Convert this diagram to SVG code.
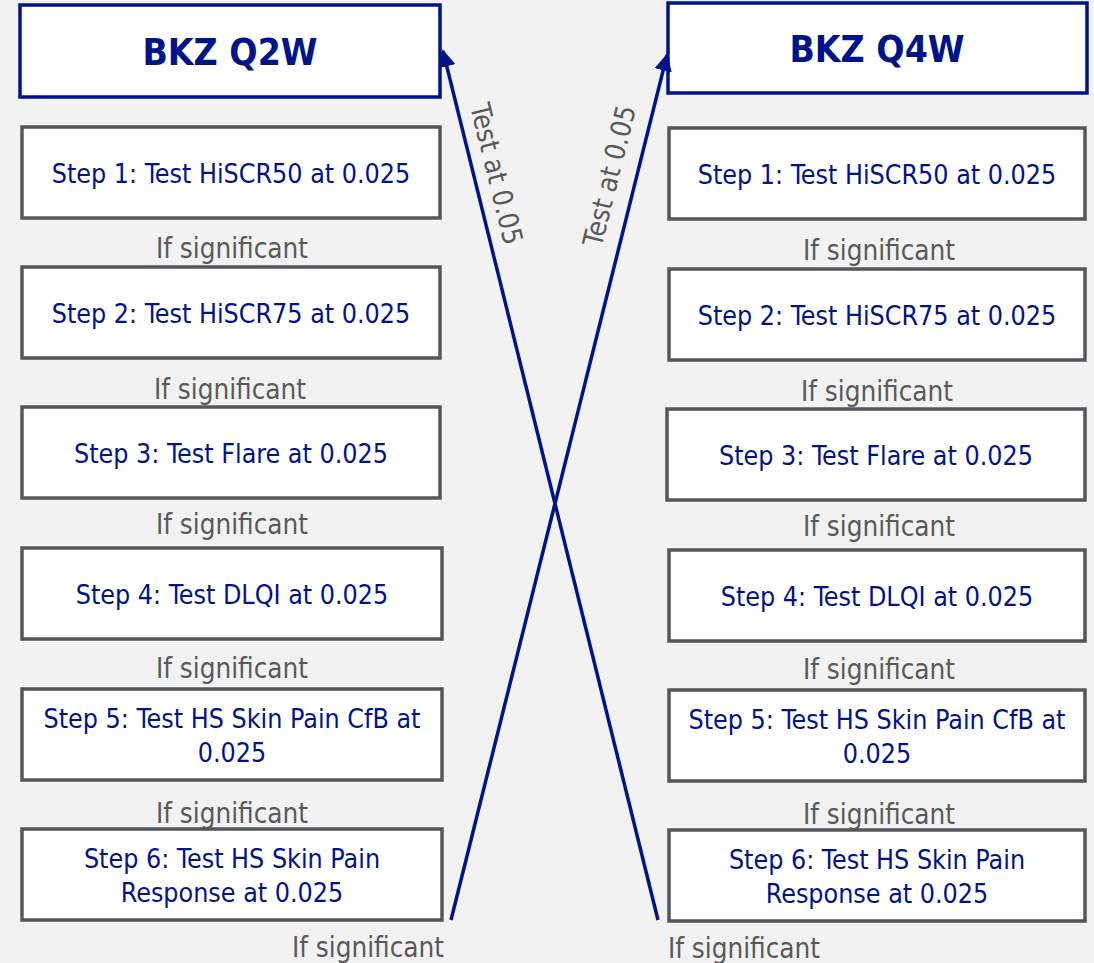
<svg xmlns="http://www.w3.org/2000/svg" width="1094" height="963" viewBox="0 0 1094 963">
<defs>
<style>
.hdr{fill:#fff;stroke:#001489;stroke-width:3.5}
.box{fill:#fff;stroke:#53565A;stroke-width:3.5}
.ht{font-family:"DejaVu Sans Condensed","DejaVu Sans",sans-serif;font-weight:bold;font-size:37px;fill:#001489;text-anchor:middle}
.st{font-family:"DejaVu Sans Condensed","DejaVu Sans",sans-serif;font-size:26.6px;fill:#001489;text-anchor:middle}
.lb{font-family:"DejaVu Sans Condensed","DejaVu Sans",sans-serif;font-size:27.6px;fill:#595959;text-anchor:middle}
.cn{stroke:#001489;stroke-width:3.5;fill:none}
</style>
<marker id="ah" viewBox="0 0 10 10" refX="9" refY="5" markerWidth="5" markerHeight="5" markerUnits="strokeWidth" orient="auto">
<path d="M0,0 L10,5 L0,10 z" fill="#001489"/>
</marker>
</defs>
<rect width="1094" height="963" fill="#F2F2F2"/>

<g id="left-header"><rect class="hdr" x="20" y="5" width="420" height="92"/><text class="ht" x="230" y="65">BKZ Q2W</text></g>
<g id="left-step1"><rect class="box" x="22" y="127" width="418" height="91"/><text class="st" x="231" y="183">Step 1: Test HiSCR50 at 0.025</text></g>
<g id="left-step2"><rect class="box" x="22" y="267" width="418" height="91"/><text class="st" x="231" y="323">Step 2: Test HiSCR75 at 0.025</text></g>
<g id="left-step3"><rect class="box" x="22" y="407" width="418" height="91"/><text class="st" x="231" y="463">Step 3: Test Flare at 0.025</text></g>
<g id="left-step4"><rect class="box" x="22" y="548" width="420" height="91"/><text class="st" x="232" y="604">Step 4: Test DLQI at 0.025</text></g>
<g id="left-step5"><rect class="box" x="22" y="689" width="420" height="91"/><text class="st" x="232" y="728">Step 5: Test HS Skin Pain CfB at</text><text class="st" x="232" y="762">0.025</text></g>
<g id="left-step6"><rect class="box" x="22" y="829" width="420" height="91"/><text class="st" x="232" y="868">Step 6: Test HS Skin Pain</text><text class="st" x="232" y="902">Response at 0.025</text></g>

<g id="right-header"><rect class="hdr" x="668" y="3" width="419" height="90"/><text class="ht" x="877" y="62">BKZ Q4W</text></g>
<g id="right-step1"><rect class="box" x="669" y="128" width="416" height="91"/><text class="st" x="877" y="184">Step 1: Test HiSCR50 at 0.025</text></g>
<g id="right-step2"><rect class="box" x="669" y="269" width="416" height="91"/><text class="st" x="877" y="325">Step 2: Test HiSCR75 at 0.025</text></g>
<g id="right-step3"><rect class="box" x="667" y="409" width="418" height="91"/><text class="st" x="876" y="465">Step 3: Test Flare at 0.025</text></g>
<g id="right-step4"><rect class="box" x="669" y="550" width="416" height="91"/><text class="st" x="877" y="606">Step 4: Test DLQI at 0.025</text></g>
<g id="right-step5"><rect class="box" x="669" y="690" width="416" height="91"/><text class="st" x="877" y="729">Step 5: Test HS Skin Pain CfB at</text><text class="st" x="877" y="763">0.025</text></g>
<g id="right-step6"><rect class="box" x="669" y="830" width="416" height="91"/><text class="st" x="877" y="869">Step 6: Test HS Skin Pain</text><text class="st" x="877" y="903">Response at 0.025</text></g>

<g id="labels">
<text class="lb" x="232" y="258">If significant</text>
<text class="lb" x="230" y="399">If significant</text>
<text class="lb" x="232" y="534">If significant</text>
<text class="lb" x="232" y="678">If significant</text>
<text class="lb" x="232" y="823">If significant</text>
<text class="lb" x="368" y="957">If significant</text>
<text class="lb" x="879" y="260">If significant</text>
<text class="lb" x="877" y="401">If significant</text>
<text class="lb" x="879" y="536">If significant</text>
<text class="lb" x="879" y="679">If significant</text>
<text class="lb" x="879" y="824">If significant</text>
<text class="lb" x="744" y="958">If significant</text>
</g>

<g id="connectors">
<line class="cn" x1="658" y1="920" x2="443" y2="51" marker-end="url(#ah)"/>
<line class="cn" x1="451" y1="920" x2="667" y2="55" marker-end="url(#ah)"/>
<text class="lb" transform="translate(496,174) rotate(76.1)" y="9">Test at 0.05</text>
<text class="lb" transform="translate(610,176) rotate(-76)" y="9">Test at 0.05</text>
</g>
</svg>
